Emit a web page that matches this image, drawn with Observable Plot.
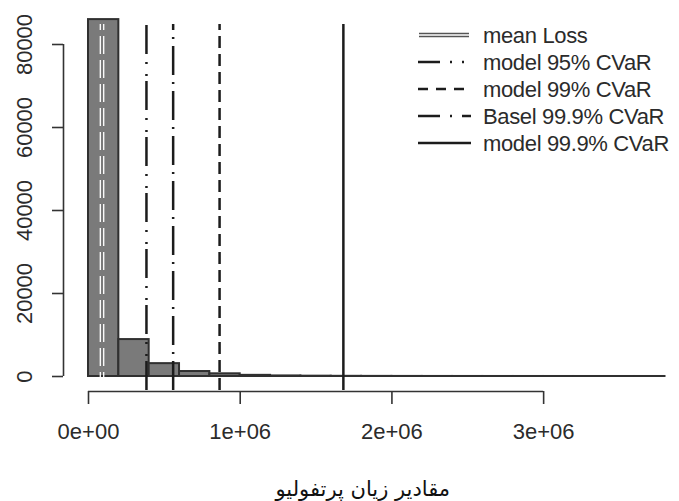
<!DOCTYPE html>
<html>
<head>
<meta charset="utf-8">
<script src="https://cdn.jsdelivr.net/npm/d3@7"></script>
<script src="https://cdn.jsdelivr.net/npm/@observablehq/plot@0.6"></script>
<style>
  html, body { margin: 0; padding: 0; background: #fff; }
  #chart { width: 679px; height: 501px; }
</style>
</head>
<body>
<div id="chart"></div>
<script>
// ---- Data ----
const binStarts = [0, 200000, 400000, 600000, 800000, 1000000, 1200000, 1400000, 1600000, 1800000,
                   2000000, 2200000, 2400000, 2600000, 2800000, 3000000, 3200000, 3400000, 3600000];
const binEnds   = [200000, 400000, 600000, 800000, 1000000, 1200000, 1400000, 1600000, 1800000, 2000000,
                   2200000, 2400000, 2600000, 2800000, 3000000, 3200000, 3400000, 3600000, 3800000];
const counts    = [86000, 8900, 3100, 1200, 650, 280, 140, 80, 45, 28, 17, 11, 7, 5, 3, 2, 1, 1, 1];

const meanLoss = 89000;
const lineNames  = ["model 95% CVaR", "model 99% CVaR", "Basel 99.9% CVaR", "model 99.9% CVaR"];
const lineValues = [382000, 864000, 558000, 1680000];

const legendLabels = ["mean Loss", "model 95% CVaR", "model 99% CVaR", "Basel 99.9% CVaR", "model 99.9% CVaR"];

const xTicks = [0, 1000000, 2000000, 3000000];
const xTickLabels = ["0e+00", "1e+06", "2e+06", "3e+06"];
const yTicks = [0, 20000, 40000, 60000, 80000];
const yTickLabels = ["0", "20000", "40000", "60000", "80000"];
const xDomain = [0, 3800000];
const yDomain = [0, 80000];
const plotYExtent = [-3400, 84800];   // vertical extent of the reference lines (R plot region)
const xTitle = "مقادیر زیان پرتفولیو";

// ---- Styles ----
const plotDash = {
  "model 95% CVaR": "29,5,2,10,2,8",
  "model 99% CVaR": "12,6",
  "Basel 99.9% CVaR": "29,7,2,7",
  "model 99.9% CVaR": null
};
const legendDash = {
  "model 95% CVaR": "22,10,2,10,2,10",
  "model 99% CVaR": "10,8",
  "Basel 99.9% CVaR": "22,10,2,10",
  "model 99.9% CVaR": null
};
const ink = "#1c1c1c";
const textInk = "#2b2b2b";

const bins = binStarts.map((s, i) => ({x1: s, x2: binEnds[i], count: counts[i]}));
const lines = lineNames.map((n, i) => ({name: n, value: lineValues[i]}));

function legendMark() {
  const g = d3.create("svg:g");
  legendLabels.forEach((lab, i) => {
    const y = 35 + i * 27;
    if (lab === "mean Loss") {
      g.append("line").attr("x1", 419).attr("x2", 469).attr("y1", y).attr("y2", y)
        .attr("stroke", "#555").attr("stroke-width", 4.6);
      g.append("line").attr("x1", 419).attr("x2", 469).attr("y1", y).attr("y2", y)
        .attr("stroke", "#fff").attr("stroke-width", 1.4);
    } else {
      const ln = g.append("line").attr("x1", 418).attr("x2", 471).attr("y1", y).attr("y2", y)
        .attr("stroke", ink).attr("stroke-width", 2.4);
      if (legendDash[lab]) ln.attr("stroke-dasharray", legendDash[lab]);
    }
    g.append("text").attr("x", 483).attr("y", y).attr("dy", "0.36em")
      .attr("text-anchor", "start")
      .attr("fill", textInk)
      .attr("font-family", "'Liberation Sans', Arial, sans-serif")
      .attr("font-size", 22).attr("letter-spacing", "-0.35px")
      .text(lab);
  });
  return g.node();
}

const chart = Plot.plot({
  width: 679,
  height: 501,
  marginLeft: 88,
  marginRight: 14.5,
  marginTop: 44,
  marginBottom: 125,
  x: {domain: xDomain, axis: null},
  y: {domain: yDomain, axis: null},
  style: {background: "#fff", fontFamily: "'Liberation Sans', Arial, sans-serif", color: textInk},
  marks: [
    // histogram bars
    Plot.rectY(bins, {x1: "x1", x2: "x2", y: "count", inset: 0, fill: "#7a7a7a", stroke: "#303030", strokeWidth: 2}),
    // mean loss: double white dashed line
    Plot.ruleX([meanLoss], {x: d => d, y1: () => plotYExtent[0], y2: () => plotYExtent[1], dx: -1.7,
      stroke: "#fff", strokeWidth: 1.3, strokeDasharray: "18,6"}),
    Plot.ruleX([meanLoss], {x: d => d, y1: () => plotYExtent[0], y2: () => plotYExtent[1], dx: 1.7,
      stroke: "#fff", strokeWidth: 1.3, strokeDasharray: "18,6"}),
    // CVaR lines
    ...lines.map(l => Plot.ruleX([l], {x: "value", y1: () => plotYExtent[0], y2: () => plotYExtent[1],
      stroke: ink, strokeWidth: 2.5, strokeDasharray: plotDash[l.name] || undefined})),
    // y axis (R style, offset from the plot region)
    Plot.ruleX([xDomain[0]], {x: d => d, y1: () => yTicks[0], y2: () => yTicks[yTicks.length - 1], dx: -25,
      stroke: "#333", strokeWidth: 1.6}),
    Plot.axisY(yTicks, {anchor: "left", tickSize: 11, dx: -25, fill: "none", stroke: "#333", strokeWidth: 1.6, label: null}),
    Plot.text(yTicks, {y: d => d, text: (d, i) => yTickLabels[i], frameAnchor: "left", dx: -64, rotate: -90,
      textAnchor: "middle", lineAnchor: "middle", fontSize: 22, fill: textInk}),
    // x axis (R style, offset below the plot region)
    Plot.ruleY([0], {y: d => d, x1: () => xTicks[0], x2: () => xTicks[xTicks.length - 1], dy: 15,
      stroke: "#333", strokeWidth: 1.6}),
    Plot.axisX(xTicks, {anchor: "bottom", tickSize: 13, dy: 15, fill: "none", stroke: "#333", strokeWidth: 1.6, label: null}),
    Plot.text(xTicks, {x: d => d, text: (d, i) => xTickLabels[i], frameAnchor: "bottom", dy: 55,
      lineAnchor: "middle", fontSize: 22, fill: textInk}),
    // x title (Persian)
    Plot.text([xTitle], {text: d => d, frameAnchor: "bottom", dy: 113, dx: -14, lineAnchor: "middle",
      fontSize: 21, fontFamily: "'DejaVu Sans', sans-serif", fill: "#111"}),
    // legend
    legendMark
  ]
});

document.getElementById("chart").appendChild(chart);
</script>
</body>
</html>
